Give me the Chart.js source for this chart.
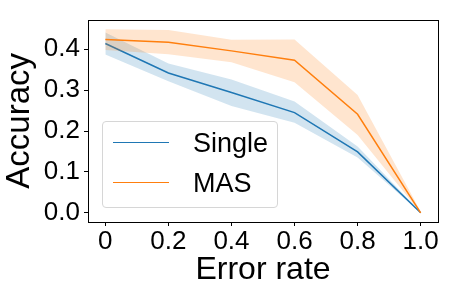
<!DOCTYPE html>
<html>
<head>
<meta charset="utf-8">
<script src="https://cdn.jsdelivr.net/npm/chart.js@4.4.1/dist/chart.umd.min.js"></script>
<style>
    body { margin: 0; background: #fff; }
    #wrap { position: relative; width: 449px; height: 297px; }
    #legend {
        position: absolute; left: 102px; top: 121px; width: 174px; height: 85px;
        border: 1px solid #d6d6d6; border-radius: 4px; background: rgba(255,255,255,0.8);
        font-family: "Liberation Sans", Arial, sans-serif; font-size: 27px; color: #000;
    }
    .item { position: absolute; left: 10px; height: 24px; }
    .item .swatch { position: absolute; left: 0; top: 11px; width: 56px; height: 0; border-top: 1.5px solid; }
    .item span { position: absolute; left: 80px; top: 0; line-height: 24px; white-space: nowrap; }
</style>
</head>
<body>
<div id="wrap">
    <canvas id="chart" width="449" height="297"></canvas>
    <div id="legend">
        <div class="item" style="top: 9px;"><div class="swatch" style="border-color:#1f77b4"></div><span>Single</span></div>
        <div class="item" style="top: 49px;"><div class="swatch" style="border-color:#ff7f0e"></div><span>MAS</span></div>
    </div>
</div>
<script>
const errorRates = [0, 0.2, 0.4, 0.6, 0.8, 1.0];

const singleMean = [0.414, 0.342, 0.294, 0.245, 0.149, 0.0];
const singleHigh = [0.441, 0.365, 0.326, 0.272, 0.162, 0.002];
const singleLow  = [0.387, 0.322, 0.261, 0.220, 0.135, 0.0];

const masMean = [0.424, 0.417, 0.396, 0.373, 0.241, 0.0];
const masHigh = [0.449, 0.447, 0.423, 0.424, 0.288, 0.003];
const masLow  = [0.398, 0.388, 0.368, 0.319, 0.190, 0.0];

const xTicks = [0, 0.2, 0.4, 0.6, 0.8, 1.0];
const yTicks = [0, 0.1, 0.2, 0.3, 0.4];

const BLUE = "#1f77b4";
const ORANGE = "#ff7f0e";

function pts(values) {
    return errorRates.map((x, i) => ({ x: x, y: values[i] }));
}

const frame = {
    id: "frame",
    afterDatasetsDraw(chart) {
        const a = chart.chartArea;
        const ctx = chart.ctx;
        ctx.save();
        ctx.strokeStyle = "#000";
        ctx.lineWidth = 1;
        ctx.strokeRect(Math.round(a.left) + 0.5, Math.round(a.top) + 0.5,
            Math.round(a.right - a.left), Math.round(a.bottom - a.top));
        ctx.restore();
    }
};

const font = { family: "'Liberation Sans', Arial, sans-serif" };

new Chart(document.getElementById("chart"), {
    type: "line",
    data: {
        datasets: [
            {
                label: "single-high", data: pts(singleHigh), borderWidth: 0, pointRadius: 0,
                backgroundColor: "rgba(31,119,180,0.2)", fill: "+1", order: 4
            },
            {
                label: "single-low", data: pts(singleLow), borderWidth: 0, pointRadius: 0,
                fill: false, order: 4
            },
            {
                label: "Single", data: pts(singleMean), borderColor: BLUE, borderWidth: 1.5,
                pointRadius: 0, fill: false, order: 3
            },
            {
                label: "mas-high", data: pts(masHigh), borderWidth: 0, pointRadius: 0,
                backgroundColor: "rgba(255,127,14,0.2)", fill: "+1", order: 2
            },
            {
                label: "mas-low", data: pts(masLow), borderWidth: 0, pointRadius: 0,
                fill: false, order: 2
            },
            {
                label: "MAS", data: pts(masMean), borderColor: ORANGE, borderWidth: 1.5,
                pointRadius: 0, fill: false, order: 1
            }
        ]
    },
    options: {
        responsive: false,
        animation: false,
        layout: { padding: { top: 7, right: 11, left: 0, bottom: 0 } },
        plugins: { legend: { display: false }, tooltip: { enabled: false } },
        scales: {
            x: {
                type: "linear",
                min: -0.055,
                max: 1.055,
                afterBuildTicks: s => { s.ticks = xTicks.map(v => ({ value: v })); },
                afterFit: s => { s.height = 75; },
                border: { display: false },
                grid: { drawOnChartArea: false, drawTicks: true, tickLength: 4, tickColor: "#000" },
                ticks: {
                    color: "#000", padding: 0, maxRotation: 0,
                    font: { ...font, size: 26 },
                    callback: v => v === 0 ? "0" : v.toFixed(1)
                },
                title: {
                    display: true, text: "Error rate", color: "#000", padding: { top: 0, bottom: 8 },
                    font: { ...font, size: 32 }
                }
            },
            y: {
                type: "linear",
                min: -0.0225,
                max: 0.4725,
                afterBuildTicks: s => { s.ticks = yTicks.map(v => ({ value: v })); },
                afterFit: s => { s.width = 88; },
                border: { display: false },
                grid: { drawOnChartArea: false, drawTicks: true, tickLength: 4, tickColor: "#000" },
                ticks: {
                    color: "#000", padding: 4,
                    font: { ...font, size: 26 },
                    callback: v => v.toFixed(1)
                },
                title: {
                    display: true, text: "Accuracy", color: "#000", padding: { top: 0, bottom: 0 },
                    font: { ...font, size: 33 }
                }
            }
        }
    },
    plugins: [frame]
});
</script>
</body>
</html>
